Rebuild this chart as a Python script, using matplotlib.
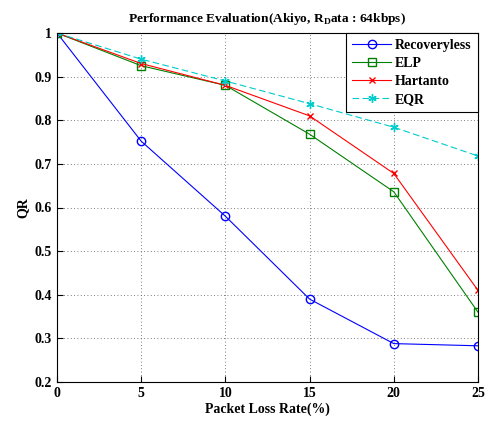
import matplotlib
matplotlib.use("Agg")
import matplotlib.pyplot as plt

plt.rcParams['font.family'] = ['Liberation Serif', 'DejaVu Serif']
plt.rcParams['font.weight'] = 'bold'
plt.rcParams['mathtext.fontset'] = 'custom'
plt.rcParams['mathtext.rm'] = 'Liberation Serif:bold'
plt.rcParams['mathtext.bf'] = 'Liberation Serif:bold'

x = [0, 5, 10, 15, 20, 25]
recoveryless = [1.0, 0.752, 0.58, 0.39, 0.288, 0.283]
elp = [1.0, 0.925, 0.88, 0.768, 0.636, 0.36]
hartanto = [1.0, 0.93, 0.88, 0.81, 0.678, 0.41]
eqr = [1.0, 0.94, 0.89, 0.838, 0.784, 0.718]

fig = plt.figure(figsize=(4.86, 4.21), dpi=100)
ax = fig.add_axes([57/486, 1-382/421, (478-57)/486, (382-33)/421])

ax.plot(x, recoveryless, color='#0000ff', lw=0.8, marker='o', ms=6, mfc='none', mec='#0000ff', label='Recoveryless')
ax.plot(x, elp, color='#008000', lw=0.8, marker='s', ms=6, mfc='none', mec='#008000', label='ELP')
ax.plot(x, hartanto, color='#ff0000', lw=0.8, marker='x', ms=4, mec='#ff0000', label='Hartanto')
ax.plot(x, eqr, color='#00cccc', lw=0.8, ls=(0, (6, 3)), marker=(6, 2, 0), ms=6, mec='#00cccc', label='EQR')

ax.set_xlim(0, 25)
ax.set_ylim(0.2, 1.0)
ax.set_xticks(x)
ax.set_yticks([0.2, 0.3, 0.4, 0.5, 0.6, 0.7, 0.8, 0.9, 1.0])
ax.set_yticklabels(['0.2', '0.3', '0.4', '0.5', '0.6', '0.7', '0.8', '0.9', '1'])
ax.grid(True, color='#555555', ls=(0, (1, 3)), lw=0.6)
ax.tick_params(direction='in', labelsize=10, length=4)
for s in ax.spines.values():
    s.set_linewidth(0.8)

ax.set_xlabel('Packet Loss Rate(%)', fontsize=10, fontweight='bold', labelpad=2)
ax.set_ylabel('QR', fontsize=10, fontweight='bold', labelpad=4)
ax.set_title(r'Performance Evaluation(Akiyo, R$_{\mathrm{D}}$ata : 64kbps)', fontsize=9.6, fontweight='bold', pad=8)

leg = ax.legend(loc='upper right', fontsize=10, fancybox=False, edgecolor='black', framealpha=1,
                borderaxespad=0, handlelength=2.8, handletextpad=0.3, labelspacing=0.35, borderpad=0.45)
leg.get_frame().set_linewidth(0.8)

fig.savefig('out.png', dpi=100)
